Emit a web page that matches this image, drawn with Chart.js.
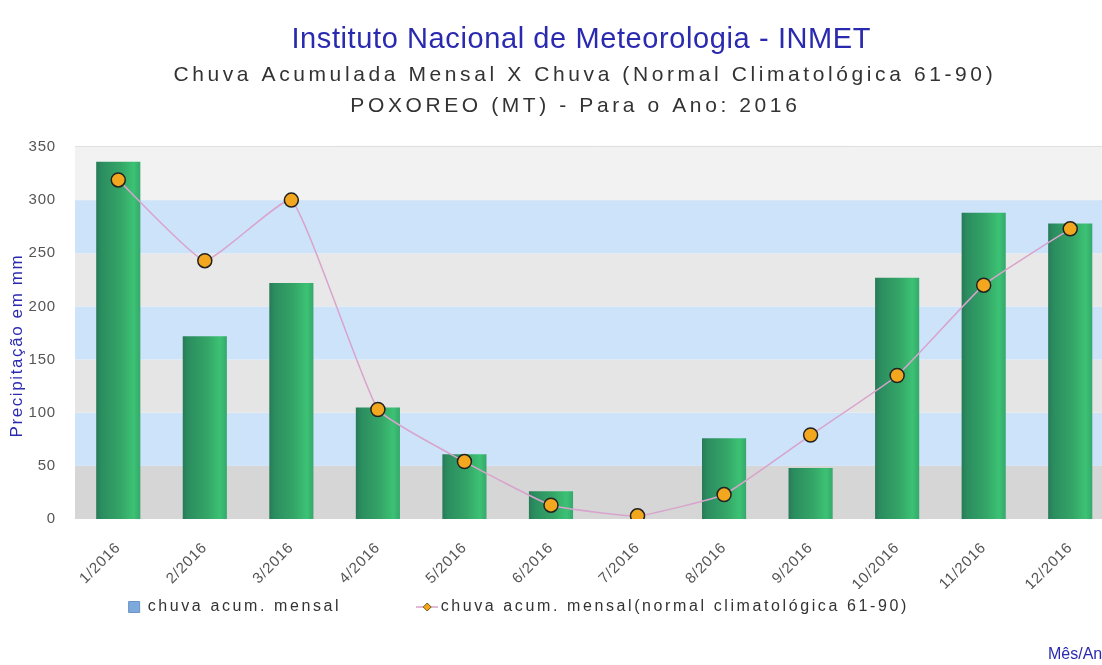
<!DOCTYPE html>
<html>
<head>
<meta charset="utf-8">
<script src="https://cdn.jsdelivr.net/npm/chart.js@4.4.1/dist/chart.umd.min.js"></script>
<style>
  html, body { margin: 0; padding: 0; background: #fff; overflow: hidden; }
  /* o grafico original aparece cortado na direita */
  #wrap { width: 1102px; height: 665px; overflow: hidden; }
</style>
</head>
<body>
<div id="wrap"><canvas id="grafico" width="1122" height="665"></canvas></div>
<script>
    // dados
    let meses = ['1/2016', '2/2016', '3/2016', '4/2016', '5/2016', '6/2016',
        '7/2016', '8/2016', '9/2016', '10/2016', '11/2016', '12/2016'];
    let chuvaMensal = [336, 172, 222, 105, 61, 26, 0, 76, 48, 227, 288, 278];
    let chuvaNormal = [319, 243, 300, 103, 54, 13, 3, 23, 79, 135, 220, 273];
    let yTicks = [0, 50, 100, 150, 200, 250, 300, 350];
    let faixas = ['#d6d6d6', '#cde3f9', '#e5e5e5', '#cde3f9', '#e8e8e8', '#cde3f9', '#f2f2f2'];

    const fonte = '"Liberation Sans", Arial, sans-serif';
    const larguraBarra = 0.51;
    const nbsp = n => '\u00a0'.repeat(n);

    // o grafico original tem as letras bem espacadas; espacamento por tamanho de fonte
    const espacamento = { 29: '0.6px', 21: '3.6px', 16: '2.6px', 17: '1.6px', 15: '0.8px' };

    let ctx = document.getElementById('grafico').getContext('2d');
    const fontDesc = Object.getOwnPropertyDescriptor(CanvasRenderingContext2D.prototype, 'font');
    Object.defineProperty(ctx, 'font', {
        configurable: true,
        get() { return fontDesc.get.call(this); },
        set(v) {
            fontDesc.set.call(this, v);
            const m = /(\d+)px/.exec(v);
            this.letterSpacing = (m && espacamento[m[1]]) || '0px';
        }
    });

    // marcador da legenda da linha: tracinho com losango
    let marcador = document.createElement('canvas');
    marcador.width = 22;
    marcador.height = 12;
    (() => {
        const m = marcador.getContext('2d');
        m.strokeStyle = '#d9a2c9';
        m.lineWidth = 1.5;
        m.beginPath();
        m.moveTo(0, 6);
        m.lineTo(22, 6);
        m.stroke();
        m.fillStyle = '#f2a71f';
        m.strokeStyle = '#7a5a10';
        m.lineWidth = 1;
        m.beginPath();
        m.moveTo(11, 2);
        m.lineTo(15, 6);
        m.lineTo(11, 10);
        m.lineTo(7, 6);
        m.closePath();
        m.fill();
        m.stroke();
    })();

    const fundo = {
        id: 'fundo',
        beforeDatasetsDraw(chart) {
            const {ctx, chartArea, scales} = chart;
            const y = scales.y;
            ctx.save();
            for (let i = 0; i < yTicks.length - 1; i++) {
                const y1 = y.getPixelForValue(yTicks[i + 1]);
                const y0 = y.getPixelForValue(yTicks[i]);
                ctx.fillStyle = faixas[i];
                ctx.fillRect(chartArea.left, y1, chartArea.right - chartArea.left, y0 - y1);
            }
            ctx.strokeStyle = '#dedede';
            ctx.lineWidth = 1;
            ctx.beginPath();
            ctx.moveTo(chartArea.left, chartArea.top - 0.5);
            ctx.lineTo(chartArea.right, chartArea.top - 0.5);
            ctx.stroke();
            ctx.restore();
        }
    };

    const rodape = {
        id: 'rodape',
        afterDraw(chart) {
            const ctx = chart.ctx;
            ctx.save();
            ctx.font = '16px ' + fonte;
            ctx.letterSpacing = '0px';
            ctx.fillStyle = '#2a2ab0';
            ctx.textBaseline = 'middle';
            ctx.fillText('Mês/Ano', 1048, 655);
            ctx.restore();
        }
    };

    function gradienteBarra(c) {
        const x = c.chart.scales.x;
        if (c.type !== 'data' || !x) return '#34a567';
        const w = x.width / meses.length * larguraBarra;
        const cx = x.getPixelForValue(c.dataIndex);
        if (!isFinite(w) || !isFinite(cx) || w <= 0) return '#34a567';
        const g = c.chart.ctx.createLinearGradient(cx - w / 2, 0, cx + w / 2, 0);
        g.addColorStop(0, '#287a58');
        g.addColorStop(0.12, '#2b8d5f');
        g.addColorStop(0.55, '#34a567');
        g.addColorStop(0.85, '#3cc274');
        g.addColorStop(1, '#35a86c');
        return g;
    }

    new Chart(ctx, {
        type: 'bar',
        data: {
            labels: meses,
            datasets: [{
                label: 'chuva acum. mensal',
                data: chuvaMensal,
                backgroundColor: gradienteBarra,
                barPercentage: larguraBarra,
                categoryPercentage: 1,
                order: 1
            }, {
                type: 'line',
                label: 'chuva acum. mensal(normal climatológica 61-90)',
                data: chuvaNormal,
                borderColor: '#d8a3cc',
                borderWidth: 1.5,
                tension: 0.12,
                pointStyle: 'circle',
                pointRadius: 7,
                pointBackgroundColor: '#f2a71f',
                pointBorderColor: '#222',
                pointBorderWidth: 1.5,
                order: 0
            }]
        },
        options: {
            responsive: false,
            animation: false,
            layout: { padding: { top: 23, left: 0, right: 0, bottom: 40 } },
            plugins: {
                title: {
                    display: true,
                    fullSize: false,
                    text: 'Instituto Nacional de Meteorologia - INMET' + nbsp(3),
                    color: '#2a2ab0',
                    font: { family: fonte, size: 29, weight: 'normal', lineHeight: 1.2 },
                    padding: { top: 0, bottom: 2 }
                },
                subtitle: {
                    display: true,
                    fullSize: false,
                    text: ['Chuva Acumulada Mensal X Chuva (Normal Climatológica 61-90)' + nbsp(2),
                        'POXOREO (MT) - Para o Ano: 2016' + nbsp(4)],
                    color: '#333',
                    font: { family: fonte, size: 21, weight: 'normal', lineHeight: 1.48 },
                    padding: { top: 0, bottom: 25 }
                },
                legend: {
                    position: 'bottom',
                    labels: {
                        color: '#333',
                        font: { family: fonte, size: 16 },
                        usePointStyle: true,
                        boxWidth: 11,
                        boxHeight: 11,
                        padding: 10,
                        generateLabels(chart) {
                            const items = Chart.defaults.plugins.legend.labels.generateLabels(chart);
                            items.sort((a, b) => a.datasetIndex - b.datasetIndex);
                            items[0].fillStyle = '#7ea9dc';
                            items[0].strokeStyle = '#6a93c6';
                            items[0].lineWidth = 1;
                            items[0].pointStyle = 'rect';
                            items[0].text += nbsp(10);
                            items[1].pointStyle = marcador;
                            items[1].text += nbsp(12);
                            return items;
                        }
                    }
                },
                tooltip: { enabled: false }
            },
            scales: {
                x: {
                    grid: { display: false, drawTicks: false },
                    border: { display: false },
                    afterFit: scale => { scale.height = 70; },
                    ticks: {
                        color: '#555',
                        minRotation: 45,
                        maxRotation: 45,
                        padding: 20,
                        font: { family: fonte, size: 15 }
                    }
                },
                y: {
                    min: 0,
                    max: 350,
                    grid: { display: false, drawTicks: false },
                    border: { display: false },
                    afterFit: scale => { scale.width = 75; },
                    ticks: {
                        stepSize: 50,
                        color: '#555',
                        padding: 19,
                        font: { family: fonte, size: 15 }
                    },
                    title: {
                        display: true,
                        text: 'Precipitação em mm' + nbsp(4),
                        color: '#2a2ab0',
                        padding: { top: 7, bottom: 0 },
                        font: { family: fonte, size: 17 }
                    }
                }
            }
        },
        plugins: [fundo, rodape]
    });
</script>
</body>
</html>
